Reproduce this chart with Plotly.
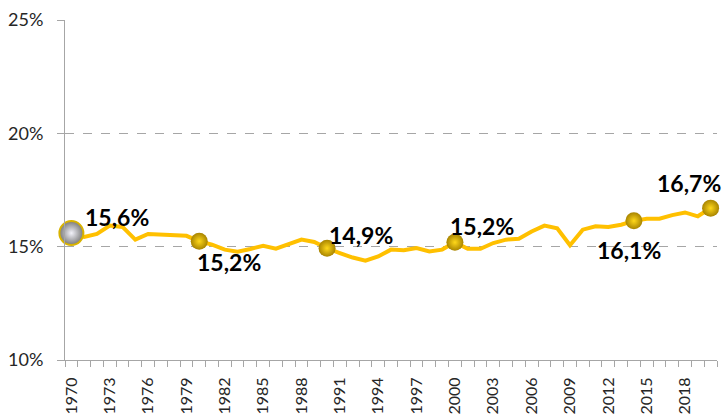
import plotly.graph_objects as go

years = list(range(1970, 2021))
share = [
    15.60, 15.43, 15.56, 15.93, 15.87, 15.31, 15.56, 15.53, 15.48, 15.48,
    15.24, 15.09, 14.87, 14.78, 14.90, 15.04, 14.91, 15.12, 15.31, 15.21,
    14.93, 14.72, 14.52, 14.38, 14.57, 14.87, 14.84, 14.94, 14.79, 14.87,
    15.19, 14.91, 14.91, 15.16, 15.31, 15.35, 15.67, 15.93, 15.81, 15.06,
    15.75, 15.90, 15.87, 15.97, 16.14, 16.23, 16.23, 16.39, 16.51, 16.34,
    16.70,
]
highlight_years = [1980, 1990, 2000, 2014, 2020]
start_year = 1970
tick_years = list(range(1970, 2019, 3))
tick_labels = [str(y) for y in tick_years]

# label offsets (px) per labelled year
label_offsets = {1970: (46, 16), 1980: (30, -21), 1990: (34, 13), 2000: (27, 16),
                 2014: (-5, -29), 2020: (-22, 25)}

def val(y):
    return share[years.index(y)]

def fmt(v):
    return f"{v:.1f}".replace(".", ",") + "%"

fig = go.Figure()
fig.add_trace(go.Scatter(
    x=years, y=share, mode="lines",
    line=dict(color="#FFC000", width=4),
    hoverinfo="skip", cliponaxis=False,
))
fig.add_trace(go.Scatter(
    x=highlight_years, y=[val(y) for y in highlight_years], mode="markers",
    marker=dict(size=17, color="#A88400",
                gradient=dict(type="radial", color="#FFD81A"),
                line=dict(width=0)),
    cliponaxis=False,
))
fig.add_trace(go.Scatter(
    x=[start_year], y=[val(start_year)], mode="markers",
    marker=dict(size=24, color="#7A7A7A",
                gradient=dict(type="radial", color="#F2F2FA"),
                line=dict(width=2, color="#D9B300")),
    cliponaxis=False,
))

for y in [start_year] + highlight_years:
    dx, dy = label_offsets[y]
    fig.add_annotation(
        x=y, y=val(y), text=fmt(val(y)), showarrow=False,
        xshift=dx, yshift=dy,
        font=dict(family="Lato", size=23, color="#000000", weight="bold"),
    )

grey = "#A6A6A6"
fig.update_layout(
    width=723, height=414,
    margin=dict(l=65, r=6, t=20, b=54, autoexpand=False),
    paper_bgcolor="white", plot_bgcolor="white",
    showlegend=False,
    font=dict(family="Lato", color="#262626"),
    xaxis=dict(
        range=[1969.5, 2020.5], automargin=False,
        tickmode="array", tickvals=tick_years, ticktext=tick_labels,
        tickangle=-90, ticks="", ticklabelstandoff=10,
        tickfont=dict(size=16, color="#262626"),
        showgrid=False, zeroline=False,
        showline=True, linecolor=grey, linewidth=1,
        minor=dict(tickmode="array",
                   tickvals=[1969.5 + i for i in range(52)],
                   ticks="outside", ticklen=6, tickcolor=grey, showgrid=False),
    ),
    yaxis=dict(
        range=[10, 25], automargin=False, tickmode="array", tickvals=[10, 15, 20, 25],
        ticktext=["10%", "15%", "20%", "25%"],
        ticks="outside", ticklen=7, tickcolor=grey, ticklabelstandoff=10,
        tickfont=dict(size=18, color="#262626"),
        showgrid=True, gridcolor=grey, griddash="dash", gridwidth=1,
        zeroline=False, showline=True, linecolor=grey, linewidth=1,
    ),
)

fig.write_html("out.html", config={"displayModeBar": False},
               post_script="document.body.style.margin='0';document.body.style.overflow='hidden';")
